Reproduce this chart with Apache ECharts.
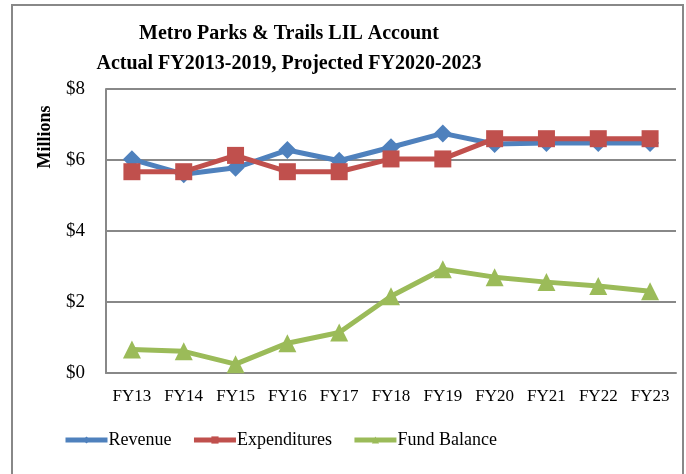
<!DOCTYPE html>
<html>
<head>
<meta charset="utf-8">
<script src="https://cdn.jsdelivr.net/npm/echarts@6/dist/echarts.min.js"></script>
<style>
html,body{margin:0;padding:0;background:#fff;}
#main{width:686px;height:474px;}
</style>
</head>
<body>
<div id="main"></div>
<script type="text/javascript">
	var years = ["FY13","FY14","FY15","FY16","FY17","FY18","FY19","FY20","FY21","FY22","FY23"];
	var revenue = [6.02,5.6,5.78,6.28,5.98,6.36,6.75,6.45,6.48,6.48,6.48];
	var expenditures = [5.67,5.67,6.13,5.67,5.67,6.03,6.03,6.6,6.6,6.6,6.6];
	var fundBalance = [0.66,0.61,0.25,0.84,1.14,2.16,2.92,2.7,2.56,2.45,2.3];
	var yTicks = [0,2,4,6,8];

	var fontFam = '"Liberation Serif", serif';
	var myChart = echarts.init(document.getElementById("main"));

	function mkSeries(name,data,color,symbol,size){
		return {
			name:name,
			type:'line',
			data:data,
			symbol:symbol,
			symbolSize:size,
			lineStyle:{color:color,width:5},
			itemStyle:{color:color},
			animation:false
		};
	}

	var option = {
		backgroundColor:'#fff',
		title:{
			text:'Metro Parks & Trails LIL Account\nActual FY2013-2019, Projected FY2020-2023',
			left:284,
			top:14,
			textAlign:'center',
			textStyle:{fontFamily:fontFam,fontSize:20,fontWeight:'bold',color:'#000',lineHeight:30}
		},
		graphic:[
			{type:'rect',shape:{x:12,y:5,width:671,height:480},style:{fill:null,stroke:'#888',lineWidth:2},silent:true},
			{type:'text',x:45,y:137,rotation:Math.PI/2,style:{text:'Millions',font:'bold 18px '+fontFam,fill:'#000',textAlign:'center',textVerticalAlign:'middle'}}
		],
		legend:{
			bottom:20,
			left:58,
			itemWidth:42,
			itemHeight:9,
			itemGap:20,
			lineStyle:{width:5},
			textStyle:{fontFamily:fontFam,fontSize:18,color:'#000',padding:[0,0,0,-4]},
			data:['Revenue','Expenditures','Fund Balance']
		},
		grid:{left:106,right:10,top:89,bottom:101},
		xAxis:{
			type:'category',
			data:years,
			boundaryGap:true,
			axisLine:{lineStyle:{color:'#888',width:2}},
			axisTick:{show:false},
			axisLabel:{fontFamily:fontFam,fontSize:17,color:'#000',margin:15,interval:0}
		},
		yAxis:{
			type:'value',
			min:0,max:8,interval:2,
			axisLine:{show:true,lineStyle:{color:'#888',width:2}},
			axisTick:{show:false},
			splitLine:{lineStyle:{color:'#888',width:2}},
			axisLabel:{fontFamily:fontFam,fontSize:19,color:'#000',margin:21,
				formatter:function(v){return yTicks.indexOf(v)>=0?'$'+v:'';}}
		},
		series:[
			mkSeries('Revenue',revenue,'#4F81BD','diamond',18),
			mkSeries('Expenditures',expenditures,'#C0504D','rect',17),
			mkSeries('Fund Balance',fundBalance,'#9BBB59','triangle',18)
		]
	};
	myChart.setOption(option);
</script>
</body>
</html>
